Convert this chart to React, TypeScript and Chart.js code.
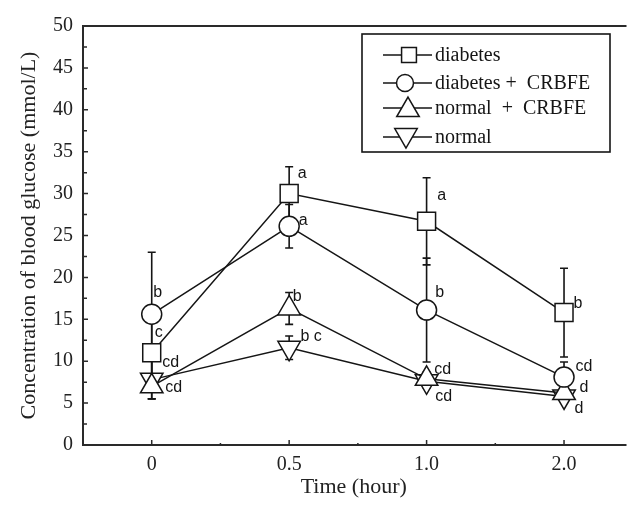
import React, { useEffect, useRef } from 'react';
import { Chart, registerables } from 'chart.js';

Chart.register(...registerables);

// ---- data ----
const timeLabels = ['0', '0.5', '1.0', '2.0'];
const seriesNames = ['diabetes', 'diabetes +  CRBFE', 'normal  +  CRBFE', 'normal'];

const diabetes = [11.0, 30.0, 26.7, 15.8];
const diabetesErr = [4.3, 3.2, 5.2, 5.3];
const diabetesCRBFE = [15.6, 26.1, 16.1, 8.1];
const diabetesCRBFEErr = [7.4, 2.6, 6.2, 1.8];
const normalCRBFE = [7.0, 16.3, 7.9, 6.2];
const normalCRBFEErr = [1.5, 1.9, 0.8, 0.8];
const normal = [7.8, 11.6, 7.6, 5.8];
const normalErr = [2.3, 1.4, 0.8, 0.8];

const yTickValues = [0, 5, 10, 15, 20, 25, 30, 35, 40, 45, 50];

// significance letters per series / time point
const diabetesLetters = ['cd', 'a', 'a', 'b'];
const diabetesCRBFELetters = ['b', 'a', 'b', 'cd'];
const normalCRBFELetters = ['c', 'b', 'cd', 'd'];
const normalLetters = ['cd', 'b c', 'cd', 'd'];

// ---- styling (offsets of letters from their point, px) ----
const letterOffsets = [
  [[19, 10], [13, -20], [15, -26], [14, -9]],
  [[6, -22], [14, -6], [13, -17], [20, -11]],
  [[7, -54], [8, -12], [16, -9], [20, -5]],
  [[22, 8], [22, -11], [17, 15], [15, 12]],
];

const INK = '#151515';
const SERIF = '"Liberation Serif", "Times New Roman", serif';
const SANS = '"Liberation Sans", Arial, sans-serif';

const pointStyles = ['rect', 'circle', 'triangle', 'triangle'];
const pointRotations = [0, 0, 0, 180];
const pointRadii = [12.7, 10, 13, 13];

function drawMarker(ctx: CanvasRenderingContext2D, style: string, rot: number, x: number, y: number, r: number) {
  ctx.beginPath();
  if (style === 'rect') {
    const s = Math.SQRT1_2 * r;
    ctx.rect(x - s, y - s, 2 * s, 2 * s);
  } else if (style === 'circle') {
    ctx.arc(x, y, r, 0, Math.PI * 2);
  } else {
    let a = (rot * Math.PI) / 180;
    for (let k = 0; k < 3; k++) {
      const px = x + Math.sin(a) * r;
      const py = y - Math.cos(a) * r;
      if (k === 0) ctx.moveTo(px, py);
      else ctx.lineTo(px, py);
      a += (2 * Math.PI) / 3;
    }
    ctx.closePath();
  }
  ctx.fillStyle = '#fff';
  ctx.fill();
  ctx.stroke();
}

export default function App() {
  const ref = useRef<HTMLCanvasElement>(null);

  useEffect(() => {
    const canvas = ref.current;
    if (!canvas) return;
    const values = [diabetes, diabetesCRBFE, normalCRBFE, normal];
    const errors = [diabetesErr, diabetesCRBFEErr, normalCRBFEErr, normalErr];
    const letters = [diabetesLetters, diabetesCRBFELetters, normalCRBFELetters, normalLetters];

    const errorBars = {
      id: 'errorBars',
      beforeDatasetsDraw(chart: any) {
        const ctx = chart.ctx;
        const ys = chart.scales.y;
        ctx.save();
        ctx.strokeStyle = INK;
        ctx.lineWidth = 1.6;
        values.forEach((vals, i) => {
          const meta = chart.getDatasetMeta(i);
          vals.forEach((v, j) => {
            const e = errors[i][j];
            const x = meta.data[j].x;
            const yt = ys.getPixelForValue(v + e);
            const yb = ys.getPixelForValue(v - e);
            ctx.beginPath();
            ctx.moveTo(x, yt);
            ctx.lineTo(x, yb);
            ctx.moveTo(x - 4, yt);
            ctx.lineTo(x + 4, yt);
            ctx.moveTo(x - 4, yb);
            ctx.lineTo(x + 4, yb);
            ctx.stroke();
          });
        });
        ctx.restore();
      },
    };

    const decorations = {
      id: 'decorations',
      afterDraw(chart: any) {
        const ctx = chart.ctx;
        const { left, right, top, bottom } = chart.chartArea;
        const xs = chart.scales.x;
        const ys = chart.scales.y;
        ctx.save();
        // frame
        ctx.strokeStyle = '#2a2a2a';
        ctx.lineWidth = 2;
        ctx.beginPath();
        ctx.moveTo(right + 2, top);
        ctx.lineTo(left, top);
        ctx.lineTo(left, bottom);
        ctx.lineTo(right + 2, bottom);
        ctx.stroke();
        // inward ticks
        ctx.lineWidth = 1.5;
        ctx.beginPath();
        for (let v = 2.5; v < 50; v += 2.5) {
          const y = ys.getPixelForValue(v);
          const len = v % 5 === 0 ? 5 : 4;
          ctx.moveTo(left, y);
          ctx.lineTo(left + len, y);
        }
        for (let v = 0; v <= 3.4; v += 0.5) {
          const x = xs.getPixelForValue(v);
          const len = v % 1 === 0 ? 5 : 2;
          ctx.moveTo(x, bottom);
          ctx.lineTo(x, bottom - len);
        }
        ctx.stroke();

        // letters
        ctx.fillStyle = INK;
        ctx.font = '16px ' + SANS;
        ctx.textAlign = 'center';
        ctx.textBaseline = 'middle';
        letters.forEach((ls, i) => {
          const meta = chart.getDatasetMeta(i);
          ls.forEach((t, j) => {
            const p = meta.data[j];
            const [dx, dy] = letterOffsets[i][j];
            ctx.fillText(t, p.x + dx, p.y + dy);
          });
        });

        // legend
        const bx = 354, by = 26, bw = 248, bh = 118;
        ctx.fillStyle = '#fff';
        ctx.fillRect(bx, by, bw, bh);
        ctx.strokeStyle = INK;
        ctx.lineWidth = 1.6;
        ctx.strokeRect(bx, by, bw, bh);
        const rows = [47, 75, 100, 129];
        const legendRadii = [10.5, 8.5, 13, 13];
        const legendX = [401, 397, 400, 398];
        seriesNames.forEach((name, i) => {
          const y = rows[i];
          ctx.strokeStyle = INK;
          ctx.lineWidth = 1.5;
          ctx.beginPath();
          ctx.moveTo(375, y);
          ctx.lineTo(424, y);
          ctx.stroke();
          drawMarker(ctx, pointStyles[i], pointRotations[i], legendX[i], y + (i === 2 ? 2 : i === 3 ? -2 : 0), legendRadii[i]);
          ctx.fillStyle = INK;
          ctx.font = '20px ' + SERIF;
          ctx.textAlign = 'left';
          ctx.textBaseline = 'middle';
          ctx.fillText(name, 427, y + 1);
        });
        ctx.restore();
      },
    };

    const chart = new Chart(canvas, {
      type: 'line',
      data: {
        datasets: values.map((vals, i) => ({
          label: seriesNames[i],
          data: vals.map((v, j) => ({ x: j, y: v })),
          borderColor: INK,
          borderWidth: 1.5,
          pointStyle: pointStyles[i] as any,
          rotation: pointRotations[i],
          pointRadius: pointRadii[i],
          pointBackgroundColor: '#fff',
          pointBorderColor: INK,
          pointBorderWidth: 1.5,
          tension: 0,
          fill: false,
          clip: false as any,
        })),
      },
      options: {
        animation: false,
        responsive: false,
        devicePixelRatio: 1,
        layout: { padding: { top: 18, right: 0, left: 0, bottom: 0 } },
        plugins: { legend: { display: false }, tooltip: { enabled: false } },
        scales: {
          x: {
            type: 'linear',
            min: -0.5,
            max: 3.44,
            grid: { display: false, drawTicks: false },
            border: { display: false },
            afterBuildTicks: (s: any) => {
              s.ticks = timeLabels.map((_, j) => ({ value: j }));
            },
            afterFit: (s: any) => {
              s.height = 65;
              s.paddingLeft = 0;
              s.paddingRight = 0;
            },
            ticks: {
              color: '#222',
              font: { family: SERIF, size: 20 },
              padding: 8,
              maxRotation: 0,
              autoSkip: false,
              callback: (v: any) => timeLabels[Math.round(Number(v))] ?? '',
            },
            title: {
              display: true,
              text: 'Time (hour)',
              color: '#222',
              font: { family: SERIF, size: 22 },
              padding: { top: 0, bottom: 10 },
            },
          },
          y: {
            type: 'linear',
            min: 0,
            max: 50,
            grid: { display: false, drawTicks: false },
            border: { display: false },
            afterBuildTicks: (s: any) => {
              s.ticks = yTickValues.map((v) => ({ value: v }));
            },
            afterFit: (s: any) => {
              s.width = 75;
              s.paddingTop = 0;
              s.paddingBottom = 0;
            },
            ticks: {
              color: '#222',
              font: { family: SERIF, size: 20 },
              padding: 10,
            },
            title: {
              display: true,
              text: 'Concentration of blood glucose (mmol/L)',
              color: '#222',
              font: { family: SERIF, size: 22 },
              padding: { top: 8, bottom: 0 },
            },
          },
        },
      },
      plugins: [errorBars, decorations],
    });
    return () => chart.destroy();
  }, []);

  return (
    <div style={{ width: 631, height: 502 }}>
      <canvas ref={ref} width={631} height={502} style={{ display: 'block' }} />
    </div>
  );
}
